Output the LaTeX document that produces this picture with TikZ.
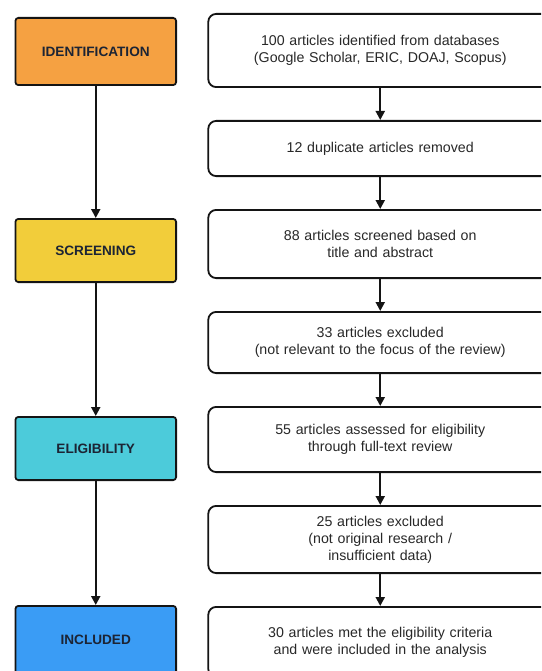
\documentclass[tikz,border=0pt]{standalone}
\usepackage{fontspec}
\setmainfont{Liberation Sans}
\usepackage{tikz}
\usetikzlibrary{arrows.meta, positioning}
\definecolor{stageorange}{RGB}{245,161,66}
\definecolor{stageyellow}{RGB}{242,205,58}
\definecolor{stagecyan}{RGB}{76,203,218}
\definecolor{stageblue}{RGB}{58,156,245}
\definecolor{labelnavy}{RGB}{28,36,52}
\definecolor{textgray}{RGB}{40,40,40}
\definecolor{lineblack}{RGB}{20,20,20}

\begin{document}
\begin{tikzpicture}[
    x=1pt, y=1pt,
    node distance=32pt,
    stage/.style={rectangle, rounded corners=3pt, minimum width=160.7pt, minimum height=63.2pt, text centered, draw=lineblack, line width=1.8pt, text=labelnavy, font=\fontsize{13.6}{15}\selectfont\bfseries},
    record/.style={rectangle, rounded corners=8pt, minimum width=344pt, text width=330pt, align=center, draw=lineblack, line width=1.8pt, fill=white, text=textgray, font=\fontsize{14.2}{17}\selectfont},
    arrow/.style={-{Triangle[length=9pt, width=9pt]}, line width=2pt, color=lineblack}
]

\useasboundingbox (0,0) rectangle (541,-671);
\clip (0,0) rectangle (541,-671);

% stages
\node[stage, fill=stageorange, minimum height=67.2pt] (ident) at (95.75,-51.5) {IDENTIFICATION};
\node[stage, fill=stageyellow] (screen) at (95.75,-250.5) {SCREENING};
\node[stage, fill=stagecyan] (elig) at (95.75,-448.5) {ELIGIBILITY};
\node[stage, fill=stageblue, minimum height=68.2pt] (incl) at (95.75,-640) {INCLUDED};

% records
\node[record, minimum height=73.2pt] (found) at (380.25,-50.5) {100 articles identified from databases\\(Google Scholar, ERIC, DOAJ, Scopus)};
\node[record, minimum height=55.2pt, below=of found] (dupes) {12 duplicate articles removed};
\node[record, minimum height=68.2pt, below=of dupes] (screened) {88 articles screened based on\\title and abstract};
\node[record, minimum height=61.2pt, below=of screened] (excl1) {33 articles excluded\\(not relevant to the focus of the review)};
\node[record, minimum height=65.2pt, below=of excl1] (assessed) {55 articles assessed for eligibility\\through full-text review};
\node[record, minimum height=67.2pt, below=of assessed] (excl2) {25 articles excluded\\(not original research /\\insufficient data)};
\node[record, minimum height=70pt, below=of excl2] (met) {30 articles met the eligibility criteria\\and were included in the analysis};

\draw[arrow] (ident) -- (screen);
\draw[arrow] (screen) -- (elig);
\draw[arrow] (elig) -- (incl);

\draw[arrow] (found) -- (dupes);
\draw[arrow] (dupes) -- (screened);
\draw[arrow] (screened) -- (excl1);
\draw[arrow] (excl1) -- (assessed);
\draw[arrow] (assessed) -- (excl2);
\draw[arrow] (excl2) -- (met);

\end{tikzpicture}
\end{document}
